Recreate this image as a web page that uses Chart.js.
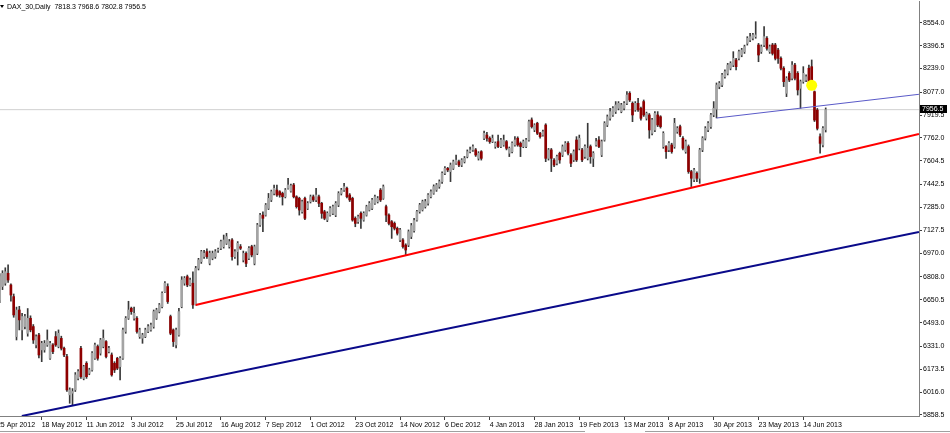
<!DOCTYPE html>
<html><head><meta charset="utf-8">
<script src="https://cdn.jsdelivr.net/npm/chart.js@4.4.1/dist/chart.umd.min.js"></script>
<style>
html,body{margin:0;padding:0;background:#fff;overflow:hidden}
#wrap{position:relative;width:950px;height:433px}
canvas{display:block}
#hdr{position:absolute;left:7px;top:2px;font:7px "Liberation Sans",Arial,sans-serif;line-height:9px;color:#000;white-space:pre}
#tri{position:absolute;left:0px;top:5px;width:0;height:0;border-left:2px solid transparent;border-right:2px solid transparent;border-top:3px solid #000}
.tab{position:absolute;height:0;border-top:1px solid #a0a0a0;top:431px}
</style></head>
<body><div id="wrap"><canvas id="c" width="950" height="433"></canvas><div id="tri"></div><div id="hdr"></div><div class="tab" style="left:0;width:585px"></div><div class="tab" style="left:645px;width:305px"></div></div>
<script>
// ---- data (daily bars, index 0 = 26 Apr 2012 ... 295 = 26 Jun 2013) ----
const symbolName = 'DAX_30,Daily';
const open = [6649,6741,6764,6832,6752,6672,6397,6580,6443,6466,
6420,6523,6466,6340,6408,6306,6306,6340,6248,6340,
6397,6329,6385,6317,6260,5997,6008,6031,6110,6317,
6110,6214,6145,6168,6248,6329,6283,6329,6363,6294,
6271,6214,6248,6191,6248,6432,6523,6592,6523,6523,
6397,6386,6397,6432,6443,6466,6523,6569,6603,6706,
6741,6535,6443,6340,6408,6603,6764,6809,6752,6764,
6615,6866,6912,6947,6981,6901,6935,6946,6990,7004,
7015,7038,7015,7061,6946,6981,7015,6923,6969,6935,
7015,6900,6969,7164,7232,7232,7278,7336,7381,7404,
7393,7381,7358,7416,7397,7439,7358,7347,7255,7347,
7278,7324,7358,7336,7358,7313,7255,7198,7232,7244,
7232,7301,7381,7404,7416,7370,7347,7210,7187,7244,
7198,7232,7267,7278,7313,7324,7404,7347,7290,7232,
7187,7175,7141,7061,7061,7026,7026,7085,7125,7198,
7256,7268,7290,7313,7359,7382,7405,7428,7462,7519,
7553,7531,7553,7588,7599,7576,7599,7634,7668,7680,
7680,7622,7668,7760,7782,7760,7737,7703,7737,7703,
7714,7737,7657,7668,7714,7760,7726,7703,7703,7748,
7886,7817,7863,7794,7782,7851,7622,7680,7610,7588,
7657,7645,7680,7726,7645,7611,7748,7691,7680,7634,
7622,7703,7622,7714,7748,7645,7748,7851,7897,7920,
7943,7966,7943,7966,8000,8069,8000,7955,8000,7966,
8012,7897,7920,7794,7817,7920,7908,7702,7703,7680,
7714,7702,7806,7840,7760,7668,7703,7531,7474,7519,
7485,7680,7760,7817,7840,7920,7960,8115,8126,8183,
8206,8241,8263,8298,8309,8332,8355,8412,8435,8447,
8458,8401,8355,8401,8447,8355,8401,8401,8366,8309,
8241,8069,8206,8172,8263,8206,8103,8149,8160,8241,
8252,8080,7954,7771,7714,7818.3];
const high = [6830,6850,6870,6890,6760,6690,6600,6605,6557,6550,
6590,6540,6480,6410,6420,6365,6370,6443,6365,6350,
6432,6443,6400,6325,6275,6045,6040,6150,6170,6330,
6200,6225,6180,6295,6352,6340,6385,6443,6370,6330,
6285,6225,6255,6260,6455,6535,6640,6600,6600,6535,
6455,6420,6455,6480,6490,6580,6592,6625,6705,6775,
6760,6545,6450,6455,6592,6809,6810,6820,6800,6843,
6880,6935,6990,6990,7000,6985,6985,6995,7005,7060,
7095,7107,7065,7070,6995,7050,7030,6985,6980,7015,
7025,7026,7175,7245,7255,7312,7381,7404,7439,7439,
7400,7390,7415,7484,7445,7450,7365,7355,7335,7355,
7325,7370,7370,7416,7370,7320,7265,7255,7290,7300,
7325,7393,7416,7450,7425,7380,7355,7220,7232,7255,
7255,7300,7325,7347,7370,7360,7415,7439,7300,7240,
7195,7185,7150,7141,7070,7035,7130,7175,7210,7265,
7313,7335,7340,7380,7405,7440,7450,7474,7530,7565,
7560,7590,7610,7645,7610,7620,7635,7680,7700,7714,
7690,7668,7675,7810,7800,7770,7782,7735,7782,7760,
7782,7745,7700,7735,7771,7770,7735,7748,7760,7885,
7900,7860,7870,7800,7817,7860,7690,7690,7620,7645,
7665,7714,7737,7737,7655,7680,7771,7782,7690,7714,
7863,7714,7668,7760,7771,7748,7874,7920,7966,7978,
8012,8012,8000,8012,8080,8080,8010,8012,8035,7975,
8023,7940,7930,7897,7943,7943,7915,7805,7710,7737,
7726,7897,7840,7851,7771,7748,7714,7540,7553,7530,
7691,7771,7840,7874,7931,8012,8140,8150,8206,8230,
8275,8286,8355,8310,8366,8378,8400,8458,8481,8481,
8561,8412,8401,8527,8458,8401,8412,8412,8378,8320,
8252,8183,8218,8286,8275,8218,8160,8252,8195,8263,
8298,8085,7965,7790,7840,7968.6];
const low = [6630,6720,6750,6770,6640,6530,6374,6443,6374,6450,
6400,6430,6350,6320,6250,6225,6290,6330,6240,6280,
6330,6320,6305,6260,6020,5939,5928,6020,6100,6110,
6100,6110,6135,6160,6240,6235,6270,6320,6250,6285,
6125,6150,6170,6100,6240,6420,6515,6550,6510,6420,
6385,6351,6390,6425,6435,6455,6515,6560,6595,6700,
6625,6410,6329,6320,6400,6595,6750,6740,6745,6590,
6614,6855,6900,6935,6935,6890,6925,6935,6975,6995,
7005,7030,7005,6923,6935,6889,6995,6910,6877,6925,
6945,6890,6960,7155,7118,7225,7270,7325,7370,7360,
7355,7301,7350,7410,7390,7350,7280,7232,7245,7200,
7270,7315,7325,7325,7290,7210,7200,7187,7225,7235,
7221,7290,7370,7395,7350,7325,7190,7152,7175,7141,
7190,7225,7260,7270,7305,7315,7325,7340,7187,7165,
7072,7130,7095,7050,7004,6960,7015,7070,7115,7190,
7245,7260,7280,7300,7350,7375,7395,7416,7450,7510,
7530,7462,7545,7580,7565,7565,7590,7625,7660,7670,
7635,7610,7610,7750,7740,7725,7730,7691,7695,7695,
7705,7680,7634,7660,7705,7705,7634,7695,7695,7740,
7830,7805,7785,7760,7775,7599,7610,7531,7565,7576,
7588,7634,7670,7645,7565,7600,7600,7680,7599,7622,
7611,7588,7565,7705,7695,7634,7740,7840,7885,7910,
7930,7955,7935,7955,7990,8012,7874,7945,7945,7885,
7910,7885,7760,7783,7805,7840,7830,7691,7622,7668,
7657,7691,7794,7771,7680,7657,7519,7428,7462,7462,
7450,7668,7748,7805,7828,7908,7900,8100,8115,8172,
8195,8230,8252,8229,8298,8320,8343,8400,8424,8435,
8447,8286,8343,8389,8366,8343,8332,8298,8275,8229,
8115,8046,8149,8160,8160,8057,7966,8138,8149,8115,
8115,7875,7817,7657,7700,7802.8];
const close = [6809,6832,6843,6786,6683,6546,6580,6512,6535,6535,
6523,6443,6374,6397,6271,6351,6351,6374,6351,6294,
6340,6420,6317,6271,6031,6031,6020,6134,6157,6122,
6191,6122,6168,6283,6340,6248,6374,6386,6260,6317,
6134,6168,6180,6248,6443,6523,6580,6569,6557,6432,
6443,6408,6443,6466,6477,6569,6580,6615,6695,6764,
6638,6420,6363,6443,6569,6786,6798,6752,6786,6615,
6866,6924,6981,6970,6947,6970,6969,6981,6995,7050,
7061,7084,7050,6946,6981,7038,7004,6969,6900,7004,
6958,7015,7164,7232,7210,7301,7347,7393,7416,7370,
7370,7358,7404,7439,7434,7358,7290,7267,7324,7210,
7313,7358,7336,7370,7313,7244,7210,7244,7278,7290,
7313,7381,7404,7427,7358,7336,7198,7175,7221,7210,
7244,7290,7313,7336,7358,7347,7336,7427,7232,7175,
7152,7141,7107,7130,7015,6992,7118,7160,7195,7256,
7302,7325,7325,7370,7393,7428,7439,7462,7519,7553,
7542,7576,7599,7610,7576,7610,7622,7668,7680,7702,
7645,7657,7622,7794,7760,7737,7760,7726,7703,7748,
7748,7691,7691,7726,7748,7714,7703,7737,7748,7874,
7840,7851,7794,7771,7805,7622,7680,7622,7576,7634,
7611,7702,7726,7657,7588,7668,7611,7760,7611,7703,
7691,7634,7657,7737,7703,7737,7863,7908,7943,7966,
7989,8000,7989,8000,8057,8023,7920,8000,7955,7897,
7920,7931,7817,7886,7931,7851,7840,7794,7668,7726,
7668,7863,7828,7783,7691,7737,7531,7485,7542,7485,
7680,7760,7828,7863,7920,7966,8126,8138,8195,8218,
8263,8275,8309,8252,8355,8366,8389,8447,8458,8470,
8470,8332,8389,8458,8378,8389,8343,8309,8309,8241,
8149,8172,8160,8263,8172,8092,8149,8206,8183,8126,
8138,7885,7828,7725,7828,7956.5];

// x-axis tick labels (bar index where each date label sits)
const xTickIdx = [-1,15,31,47,63,79,95,111,127,143,159,175,191,207,223,239,255,271,287];
const xTickLabels = ['25 Apr 2012','18 May 2012','11 Jun 2012','3 Jul 2012','25 Jul 2012','16 Aug 2012','7 Sep 2012','1 Oct 2012','23 Oct 2012','14 Nov 2012','6 Dec 2012','4 Jan 2013','28 Jan 2013','19 Feb 2013','13 Mar 2013','8 Apr 2013','30 Apr 2013','23 May 2013','14 Jun 2013'];
// y-axis price labels
const yTicks = [8554.0,8396.5,8239.0,8077.0,7919.5,7762.0,7604.5,7442.5,7285.0,7127.5,6970.0,6808.0,6650.5,6493.0,6331.0,6173.5,6016.0,5858.5];

// drawn objects: [barIndex, price] end points
const redTrend = [[70, 6614], [328.3, 7789]];
const navyTrend = [[7.9, 5851.6], [328.3, 7116]];
const blueTrend = [[256, 7899], [328.3, 8062]];
const marker = [[290, 8124]];

// ---- view range ----
const X_MIN = 0.107, X_MAX = 328.32;
const Y_MIN = 5851.6, Y_MAX = 8703.1;

const last = close.length - 1;
document.getElementById('hdr').textContent =
  symbolName + '  ' + [open[last], high[last], low[last], close[last]].map(v => v.toFixed(1)).join(' ');

const idx = close.map((_, i) => i);
const bodies = idx.map(i => ({x: i, y: [open[i], close[i]]}));
const wicks = idx.map(i => ({x: i, y: [low[i], high[i]]}));
const UP = '#a4a4a4', DOWN = '#8e0000';
const toPts = a => a.map(p => ({x: p[0], y: p[1]}));
const FONT = {family: '"Liberation Sans", Arial, sans-serif', size: 7};

const priceTag = {
  id: 'priceTag',
  afterDraw(chart) {
    const {ctx, scales: {y}} = chart;
    const v = close[last];
    const py = Math.round(y.getPixelForValue(v));
    ctx.save();
    ctx.fillStyle = '#000';
    ctx.fillRect(y.left + 1, py - 5, 27, 8);
    ctx.fillStyle = '#fff';
    ctx.font = '7px "Liberation Sans", Arial, sans-serif';
    ctx.textBaseline = 'middle';
    ctx.fillText(v.toFixed(1), y.left + 3, py - 1);
    ctx.restore();
  }
};

new Chart(document.getElementById('c'), {
  type: 'bar',
  data: {
    datasets: [
      {type: 'line', data: [{x: X_MIN, y: close[last]}, {x: X_MAX, y: close[last]}], borderColor: '#d0d0d0', borderWidth: 1, pointRadius: 0, order: 10},
      {data: wicks, backgroundColor: '#383838', barThickness: 1, grouped: false, order: 9},
      {data: bodies, backgroundColor: c => close[c.dataIndex] >= open[c.dataIndex] ? UP : DOWN, barThickness: 2, grouped: false, minBarLength: 1, order: 8},
      {type: 'line', data: toPts(navyTrend), borderColor: '#0a0a8a', borderWidth: 2, pointRadius: 0, clip: 0, order: 3},
      {type: 'line', data: toPts(redTrend), borderColor: '#ff0000', borderWidth: 2, pointRadius: 0, clip: 0, order: 2},
      {type: 'line', data: toPts(blueTrend), borderColor: '#5a5ac8', borderWidth: 1, pointRadius: 0, clip: 0, order: 1},
      {type: 'line', data: toPts(marker), showLine: false, pointRadius: 5.5, pointBackgroundColor: '#ffff00', pointBorderWidth: 0, order: 0}
    ]
  },
  options: {
    responsive: false,
    animation: false,
    devicePixelRatio: 1,
    events: [],
    layout: {autoPadding: false, padding: {top: 1, left: 0, right: 0, bottom: 0}},
    plugins: {legend: {display: false}, tooltip: {enabled: false}},
    scales: {
      x: {
        type: 'linear', min: X_MIN, max: X_MAX, offset: false,
        afterBuildTicks: s => { s.ticks = xTickIdx.map(v => ({value: v})); },
        afterFit: s => { s.height = 17; s.paddingLeft = 0; s.paddingRight = 0; },
        ticks: {autoSkip: false, maxRotation: 0, minRotation: 0, align: 'start', padding: 1, font: FONT, color: '#000',
          callback: (v, i) => xTickLabels[i]},
        grid: {drawOnChartArea: false, drawTicks: true, tickLength: 4, color: '#404040', offset: false},
        border: {display: true, color: '#808080', width: 1}
      },
      y: {
        position: 'right', min: Y_MIN, max: Y_MAX,
        afterBuildTicks: s => { s.ticks = yTicks.map(v => ({value: v})); },
        afterFit: s => { s.width = 31; s.paddingTop = 0; s.paddingBottom = 0; },
        ticks: {autoSkip: false, padding: 1, font: FONT, color: '#000', callback: v => Number(v).toFixed(1)},
        grid: {drawOnChartArea: false, drawTicks: true, tickLength: 3, color: '#404040'},
        border: {display: true, color: '#808080', width: 1}
      }
    }
  },
  plugins: [priceTag]
});
</script>
</body></html>
